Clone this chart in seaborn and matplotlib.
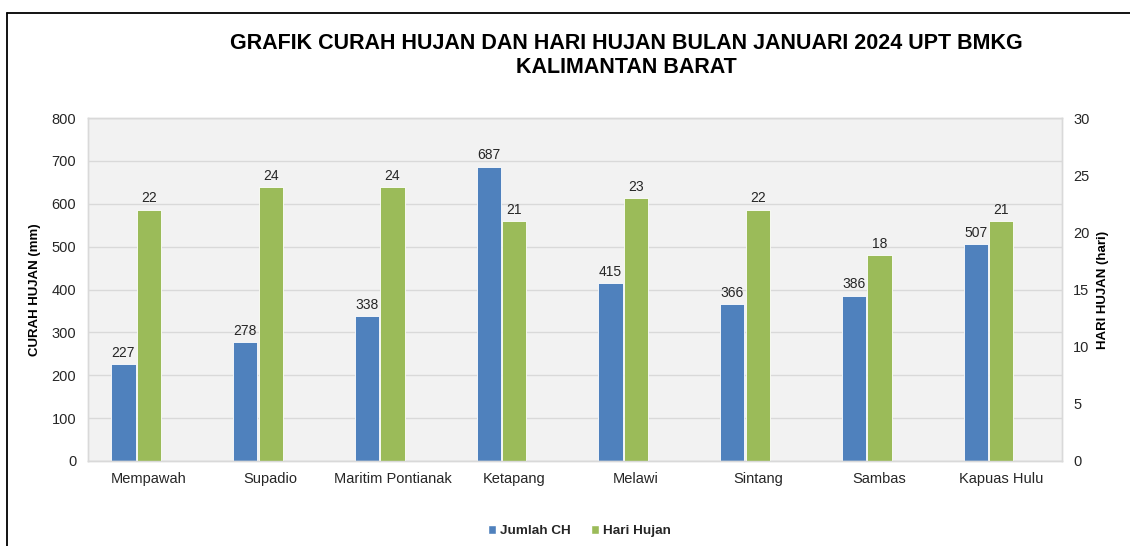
import numpy as np
import pandas as pd
import matplotlib
matplotlib.use("Agg")
import matplotlib.pyplot as plt
from matplotlib.lines import Line2D
from matplotlib.patches import Patch
import seaborn as sns

stations = ["Mempawah", "Supadio", "Maritim Pontianak", "Ketapang", "Melawi",
            "Sintang", "Sambas", "Kapuas Hulu"]
jumlah_ch = [227, 278, 338, 687, 415, 366, 386, 507]
hari_hujan = [22, 24, 24, 21, 23, 22, 18, 21]
left_ticks = [0, 100, 200, 300, 400, 500, 600, 700, 800]
right_ticks = [0, 5, 10, 15, 20, 25, 30]

BLUE = "#4F81BD"
GREEN = "#9BBB59"
TXT = "#262626"

sns.set_theme(style="white")
plt.rcParams["font.family"] = ["Liberation Sans", "DejaVu Sans"]

fig = plt.figure(figsize=(11.30, 5.46), dpi=100)
ax1 = fig.add_axes([0.078, 0.1557, 0.862, 0.628])
ax2 = ax1.twinx()

pos = np.arange(len(stations))
df = pd.DataFrame({"station": stations, "pos": pos, "ch": jumlah_ch, "hh": hari_hujan})

ax1.set_facecolor("#f2f2f2")
ax1.set_zorder(0)
ax2.set_zorder(1)
ax2.patch.set_visible(False)

sns.barplot(x=df["pos"] - 0.21, y=df["ch"], native_scale=True, width=0.2,
            color=BLUE, saturation=1, ax=ax1, edgecolor="white", linewidth=0.6)
sns.barplot(x=df["pos"], y=df["hh"], native_scale=True, width=0.2,
            color=GREEN, saturation=1, ax=ax2, edgecolor="white", linewidth=0.6)

ax1.set_xlim(-0.5, len(stations) - 0.5)
ax1.set_ylim(0, 800)
ax2.set_ylim(0, 30)
ax1.set_yticks(left_ticks)
ax2.set_yticks(right_ticks)
ax1.set_xticks(pos)
ax1.set_xticklabels(stations, fontsize=10.5, color=TXT)
ax1.tick_params(axis="x", length=0, pad=8)
ax1.tick_params(axis="y", length=0, pad=8.5, labelsize=10.5, labelcolor=TXT)
ax2.tick_params(axis="y", length=0, pad=8, labelsize=10.5, labelcolor=TXT)
ax1.yaxis.grid(True, color="#d9d9d9", linewidth=1)
ax1.set_axisbelow(True)
ax2.grid(False)

for ax in (ax1, ax2):
    for s in ax.spines.values():
        s.set_color("#d9d9d9")
        s.set_linewidth(1)

ax1.set_xlabel("")
ax1.set_ylabel("CURAH HUJAN (mm)", fontsize=9.5, fontweight="bold", color="black", labelpad=8)
ax2.set_ylabel("HARI HUJAN (hari)", fontsize=9.5, fontweight="bold", color="black",
               rotation=90, labelpad=5.5)

for c in ax1.containers:
    ax1.bar_label(c, labels=[str(v) for v in jumlah_ch], padding=3, fontsize=10, color=TXT)
for c in ax2.containers:
    ax2.bar_label(c, labels=[str(v) for v in hari_hujan], padding=3, fontsize=10, color=TXT)

fig.text(0.554, 0.898, "GRAFIK CURAH HUJAN DAN HARI HUJAN BULAN JANUARI 2024 UPT BMKG\nKALIMANTAN BARAT",
         ha="center", va="center", fontsize=15.5, fontweight="bold", color="black", linespacing=1.2)

handles = [Patch(facecolor=BLUE, label="Jumlah CH"), Patch(facecolor=GREEN, label="Hari Hujan")]
fig.legend(handles=handles, loc="center", bbox_to_anchor=(0.513, 0.027), ncol=2, frameon=False,
           prop={"weight": "bold", "size": 9.7}, handlelength=0.6, handleheight=0.6,
           handletextpad=0.3, columnspacing=1.5)

fig.add_artist(Line2D([7 / 1130, 1.0], [1 - 13 / 546, 1 - 13 / 546], color="black", lw=1.3,
                      transform=fig.transFigure))
fig.add_artist(Line2D([7 / 1130, 7 / 1130], [0, 1 - 13 / 546], color="black", lw=1.3,
                      transform=fig.transFigure))

fig.savefig("out.png", dpi=100, facecolor="white")
